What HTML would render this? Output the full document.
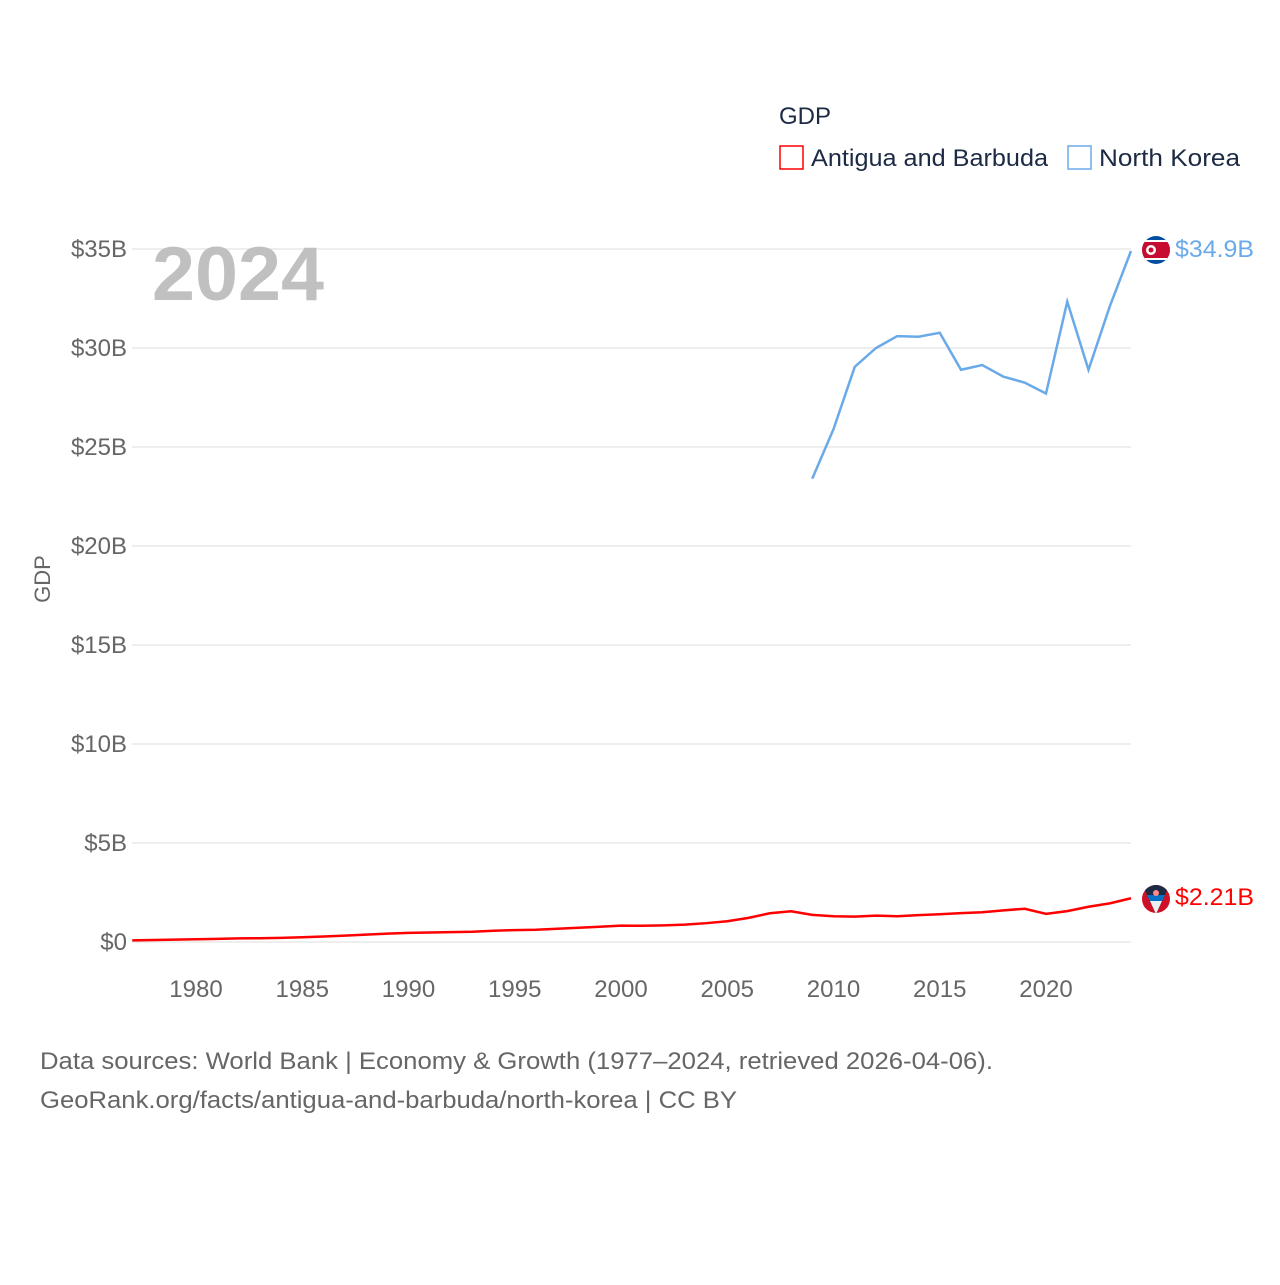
<!DOCTYPE html>
<html><head><meta charset="utf-8">
<style>
body{margin:0;background:#fff;font-family:"Liberation Sans",sans-serif;}
svg text{font-family:"Liberation Sans",sans-serif;}
</style></head>
<body>
<svg id="chart" width="1280" height="1280" viewBox="0 0 1280 1280" xmlns="http://www.w3.org/2000/svg">
<rect width="1280" height="1280" fill="#fff"/>
<text x="779" y="124" font-size="24" fill="#1c2a44">GDP</text>
<g>
<rect x="780" y="146" width="23" height="23" fill="none" stroke="#ff0000" stroke-width="1.5"/>
<text x="811" y="166" font-size="24" fill="#1c2a44" textLength="237" lengthAdjust="spacingAndGlyphs">Antigua and Barbuda</text></g>
<g>
<rect x="1068" y="146" width="23" height="23" fill="none" stroke="#6aaae8" stroke-width="1.5"/>
<text x="1099" y="166" font-size="24" fill="#1c2a44" textLength="141" lengthAdjust="spacingAndGlyphs">North Korea</text></g>
<g id="grid"></g>
<g id="yticks"></g>
<g id="xticks"></g>
<text x="152" y="300" font-size="76" font-weight="bold" fill="#c0c0c0" textLength="172" lengthAdjust="spacingAndGlyphs">2024</text>
<text transform="translate(50,579) rotate(-90)" text-anchor="middle" font-size="22" fill="#666">GDP</text>
<g id="series"></g>
<g>
<clipPath id="c1"><circle cx="1156" cy="250" r="14"/></clipPath>
<g clip-path="url(#c1)"><rect x="1140" y="235" width="32" height="30" fill="#024fa2"/><rect x="1140" y="240" width="32" height="20" fill="#fff"/><rect x="1140" y="242" width="32" height="16" fill="#c60c30"/><circle cx="1151" cy="250" r="5" fill="#fff"/><circle cx="1151" cy="250" r="2.5" fill="#c60c30"/></g></g>
<g>
<clipPath id="c2"><circle cx="1156" cy="899" r="14"/></clipPath>
<g clip-path="url(#c2)"><rect x="1140" y="884" width="32" height="30" fill="#ce1126"/><polygon points="1142,884 1170,884 1156,914" fill="#1c2a44"/><polygon points="1147,895 1165,895 1156,914" fill="#0072c6"/><polygon points="1150,901 1162,901 1156,914" fill="#eee"/><circle cx="1156" cy="893" r="3" fill="#f88"/></g></g>
<text x="1175" y="257" font-size="24" fill="#6aaae8" textLength="79" lengthAdjust="spacingAndGlyphs">$34.9B</text>
<text x="1175" y="905" font-size="24" fill="#ff0000" textLength="79" lengthAdjust="spacingAndGlyphs">$2.21B</text>
<text x="40" y="1069" font-size="24" fill="#666" textLength="953" lengthAdjust="spacingAndGlyphs">Data sources: World Bank | Economy &amp; Growth (1977–2024, retrieved 2026-04-06).</text>
<text x="40" y="1108" font-size="24" fill="#666" textLength="697" lengthAdjust="spacingAndGlyphs">GeoRank.org/facts/antigua-and-barbuda/north-korea | CC BY</text>
</svg>
<script>
const yTicks=[0,5,10,15,20,25,30,35];
const yTickLabels=["$0","$5B","$10B","$15B","$20B","$25B","$30B","$35B"];
const xTicks=[1980,1985,1990,1995,2000,2005,2010,2015,2020];
const agYears=[1977,1978,1979,1980,1981,1982,1983,1984,1985,1986,1987,1988,1989,1990,1991,1992,1993,1994,1995,1996,1997,1998,1999,2000,2001,2002,2003,2004,2005,2006,2007,2008,2009,2010,2011,2012,2013,2014,2015,2016,2017,2018,2019,2020,2021,2022,2023,2024];
const agValues=[0.08,0.1,0.12,0.14,0.16,0.18,0.19,0.21,0.24,0.28,0.32,0.37,0.42,0.46,0.48,0.5,0.52,0.57,0.6,0.62,0.67,0.72,0.77,0.83,0.82,0.84,0.88,0.95,1.05,1.22,1.45,1.55,1.37,1.3,1.28,1.33,1.3,1.36,1.4,1.46,1.5,1.6,1.68,1.42,1.56,1.78,1.95,2.21];
const nkYears=[2009,2010,2011,2012,2013,2014,2015,2016,2017,2018,2019,2020,2021,2022,2023,2024];
const nkValues=[23.4,25.9,29.05,30.0,30.6,30.57,30.77,28.9,29.14,28.55,28.25,27.7,32.34,28.9,32.1,34.9];
const NS="http://www.w3.org/2000/svg";
const x=yr=>132.25+(yr-1977)*21.25;
const y=v=>942-v*19.8;
function mk(tag,attrs,parent){const e=document.createElementNS(NS,tag);for(const k in attrs)e.setAttribute(k,attrs[k]);parent.appendChild(e);return e;}
const grid=document.getElementById('grid'),yt=document.getElementById('yticks'),xt=document.getElementById('xticks'),ser=document.getElementById('series');
yTicks.forEach((v,i)=>{
 const l=mk('line',{x1:132,x2:1131,y1:y(v),y2:y(v),stroke:'#e8e8e8','stroke-width':1.5},grid);
 
 
 const t=mk('text',{x:127,y:y(v)+8,'text-anchor':'end','font-size':24,fill:'#666'},yt);
 t.textContent=yTickLabels[i];
 
 
});
xTicks.forEach(v=>{
 const t=mk('text',{x:x(v),y:997,'text-anchor':'middle','font-size':24,fill:'#666'},xt);
 t.textContent=v;
 
 
});
const p1=mk('polyline',{points:agYears.map((yr,i)=>x(yr)+','+y(agValues[i])).join(' '),fill:'none',stroke:'#ff0000','stroke-width':2.5},ser);


const p2=mk('polyline',{points:nkYears.map((yr,i)=>x(yr)+','+y(nkValues[i])).join(' '),fill:'none',stroke:'#6aaae8','stroke-width':2.5},ser);


</script>
</body></html>
